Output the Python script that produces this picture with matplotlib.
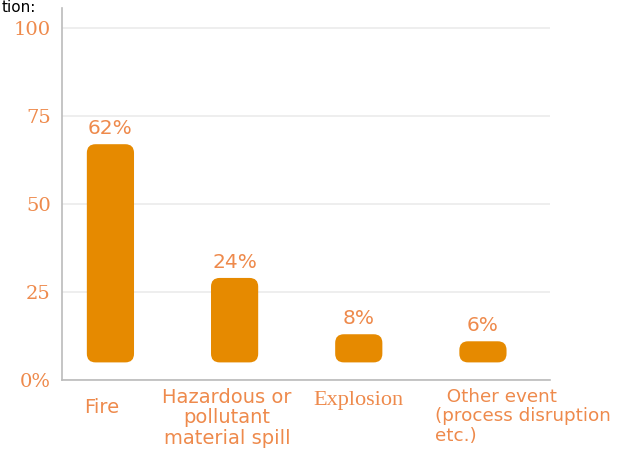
import matplotlib
matplotlib.use("Agg")
import matplotlib.pyplot as plt
from matplotlib.patches import FancyBboxPatch

# data
categories = ["Fire", "Hazardous or\npollutant\nmaterial spill", "Explosion",
              "Other event\n(process disruption\netc.)"]
values = [62, 24, 8, 6]
value_labels = ["62%", "24%", "8%", "6%"]
yticks = [0, 25, 50, 75, 100]
ytick_labels = ["0%", "25", "50", "75", "100"]

bar_color = "#E68A00"
text_color = "#EE8A4C"
base = 5  # bars float a little above the axis

fig = plt.figure(figsize=(6.22, 4.59), dpi=100)
ax = fig.add_axes([62 / 622, 1 - 380 / 459, 488 / 622, 372 / 459])
ax.set_xlim(-0.39, 3.54)
ax.set_ylim(0, 105.7)

# rounded bars
w = 0.38
asp = (488 / 3.93) / (372 / 105.7)
for i, v in enumerate(values):
    p = FancyBboxPatch((i - w / 2, base), w, v,
                       boxstyle="round,pad=0,rounding_size=0.07",
                       mutation_aspect=asp, fc=bar_color, ec="none", zorder=3)
    ax.add_patch(p)
    ax.text(i, base + v + 1.8, value_labels[i], ha="center", va="bottom",
            fontsize=14.5, color=text_color, family="DejaVu Sans")

ax.set_yticks(yticks)
ax.set_yticklabels(ytick_labels, family="DejaVu Serif", fontsize=14,
                   color=text_color)
ax.tick_params(axis="y", length=0, pad=8)
ax.grid(axis="y", color="#EBEBEB", lw=1.2, zorder=0)

ax.set_xticks(range(len(categories)))
ax.set_xticklabels([])
ax.tick_params(axis="x", length=0)
for i, c in enumerate(categories):
    if c == "Explosion":
        ax.text(i, -3.2, c, ha="center", va="top", fontsize=16,
                color=text_color, family="Liberation Serif")
    elif c == "Fire":
        ax.text(i - 0.07, -5.2, c, ha="center", va="top", fontsize=14,
                color=text_color, family="DejaVu Sans")
    elif i == len(categories) - 1:
        lines = c.split("\n")
        ax.text(i - 0.385, -2.2, "  " + lines[0] + "\n" + "\n".join(lines[1:]),
                ha="left", va="top", fontsize=13.2, color=text_color,
                family="DejaVu Sans", linespacing=1.1, multialignment="left")
    else:
        ax.text(i - 0.06, -2.2, c, ha="center", va="top", fontsize=14,
                color=text_color, family="DejaVu Sans", linespacing=1.1)

for s in ["top", "right"]:
    ax.spines[s].set_visible(False)
ax.spines["left"].set_color("#BBBBBB")
ax.spines["bottom"].set_color("#BBBBBB")
ax.spines["left"].set_linewidth(1.2)
ax.spines["bottom"].set_linewidth(1.2)

fig.text(0.003, 0.999, "tion:", fontsize=11, color="black", ha="left",
         va="top", family="DejaVu Sans")

fig.savefig("out.png", dpi=100)
